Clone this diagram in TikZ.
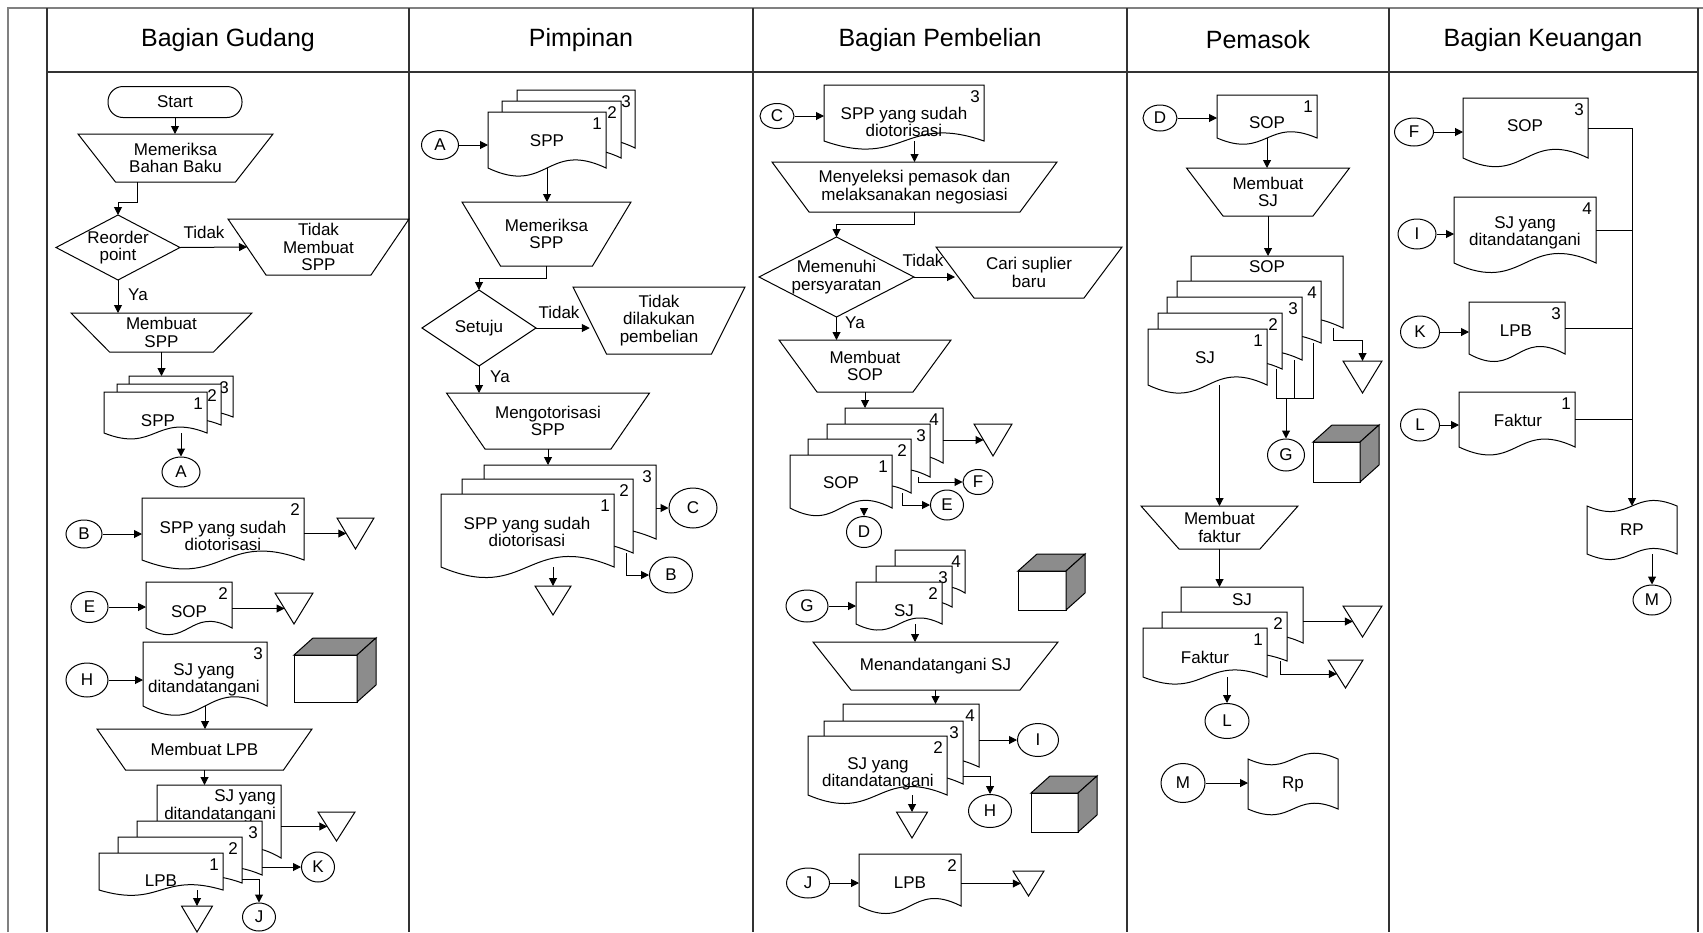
\documentclass[tikz,border=0pt]{standalone}
\usepackage{fontspec}
\setmainfont{Liberation Sans}
\usepackage{tikz}
\usetikzlibrary{arrows.meta, calc, shapes.geometric}
\colorlet{cubegray}{black!45}
\newcommand{\bodyfont}{\fontsize{17}{17.5}\selectfont}
\newcommand{\headfont}{\fontsize{25}{30}\selectfont}
\tikzset{
  lane/.style={line width=1.3pt, draw=black!80},
  frame/.style={line width=2pt, draw=black!50},
  shape line/.style={line width=1pt},
  box/.style={rectangle, inner sep=0pt, outer sep=0pt, align=center, font=\bodyfont},
  txt/.style={inner sep=0pt, align=center, font=\bodyfont},
  numtxt/.style={inner sep=0pt, font=\bodyfont},
  lbl/.style={inner sep=0pt, font=\bodyfont},
  con/.style={ellipse, draw, line width=1pt, inner sep=0pt, font=\bodyfont},
  term/.style={draw, line width=1pt, rounded corners=15pt, inner sep=0pt, font=\bodyfont},
  arr/.style={line width=1pt, -{Triangle[length=8pt, width=8pt]}},
  ln/.style={line width=1pt},
  title/.style={font=\headfont, inner sep=0pt},
}
% manual operation: name, x, y, top width, bottom width, height, text
\newcommand{\manop}[7]{%
  \node[box, minimum width=#4, minimum height=#6] (#1) at (#2,#3) {#7};
  \draw[shape line] (#1.north west) -- (#1.north east) -- ([xshift=-(#4-#5)/2]#1.south east)
    -- ([xshift=(#4-#5)/2]#1.south west) -- cycle;
  \coordinate (#1-l) at ([xshift=(#4-#5)/4]#1.west);
  \coordinate (#1-r) at ([xshift=-(#4-#5)/4]#1.east);
}
% decision: name, x, y, width, height, text
\newcommand{\decide}[6]{%
  \node[box, minimum width=#4, minimum height=#5] (#1) at (#2,#3) {#6};
  \draw[shape line] (#1.north) -- (#1.east) -- (#1.south) -- (#1.west) -- cycle;
}
% document: name, left, top, width, height, number, text x, text y, text
\newcommand{\docu}[9]{%
  \node[box, anchor=north west, minimum width=#4, minimum height=#5] (#1) at (#2,#3) {};
  \filldraw[shape line, fill=white] (#1.south west) -- (#1.north west) -- (#1.north east) -- (#1.south east)
    .. controls +(-#4/2,-#5/2) and +(#4/2,#5/2) .. (#1.south west) -- cycle;
  \if\relax\detokenize{#6}\relax\else
    \node[numtxt] (#1-n) at ([xshift=-9,yshift=-12]#1.north east) {#6};\fi
  \if\relax\detokenize{#9}\relax\else
    \node[txt] (#1-t) at (#7,#8) {#9};\fi
}
% archive: name, x, top, width, height
\newcommand{\arsip}[5]{%
  \node[box, anchor=north, minimum width=#4, minimum height=#5] (#1) at (#2,#3) {};
  \filldraw[shape line, fill=white] (#1.north west) -- (#1.north east) -- (#1.south) -- cycle;
  \coordinate (#1-l) at ($(#1.north west)!0.5!(#1.south)$);
}
% goods box: name, left, top, width, height
\newcommand{\kubus}[5]{%
  \node[box, draw, shape line, fill=white, anchor=north west, minimum width=#4, minimum height=#5] (#1) at (#2,#3) {};
  \filldraw[shape line, fill=cubegray] (#1.north west) -- ++(19,-17) -- ++(#4,0) -- (#1.north east) -- cycle;
  \filldraw[shape line, fill=cubegray] (#1.north east) -- ++(19,-17) -- ++(0,#5) -- (#1.south east) -- cycle;
}
% punched tape: name, x, y, width, height, text
\newcommand{\tape}[6]{%
  \node[box, minimum width=#4, minimum height=#5] (#1) at (#2,#3) {#6};
  \draw[shape line] (#1.north west) .. controls +(#4/2,#5/2.5) and +(-#4/2,-#5/2.5) .. (#1.north east)
    -- (#1.south east) .. controls +(-#4/2,-#5/2.5) and +(#4/2,#5/2.5) .. (#1.south west) -- cycle;
}

\begin{document}
\begin{tikzpicture}[x=1pt, y=-1pt]
\useasboundingbox (0,0) rectangle (1703,932);

% swimlanes
\draw[frame] (8,932) -- (8,8) -- (1703,8);
\foreach \x in {47,409,753,1127,1389,1698}
  \draw[lane] (\x,8) -- (\x,932);
\draw[lane] (47,72) -- (1698,72);
\foreach \i/\x/\lab in {1/228/Bagian Gudang, 2/581/Pimpinan, 3/940/Bagian Pembelian, 4/1258/Pemasok, 5/1543/Bagian Keuangan}
  \node[title] (head\i) at (\x,40) {\lab};

% Bagian Gudang
\node[term, minimum width=134, minimum height=31] (start) at (175,102) {Start};
\manop{periksa}{175.5}{158}{195}{120}{48}{Memeriksa\\Bahan Baku}
\decide{reorder}{118}{247.5}{124}{65}{Reorder\\point}
\manop{tdkspp}{318.5}{247}{181}{105}{56}{Tidak\\Membuat\\SPP}
\manop{buatspp}{161.5}{332.5}{181}{104}{39}{Membuat\\SPP}
\docu{sppG3}{129}{376}{104}{41}{3}{}{}{}
\docu{sppG2}{117}{384}{104}{41}{2}{}{}{}
\docu{sppG1}{104}{392}{103}{41}{1}{158}{421}{SPP}
\node[con, minimum width=38, minimum height=30] (A1) at (181,472) {A};
\draw[arr] (start.south) -- (start.south |- periksa.north);
\draw[arr] ([xshift=-38]periksa.south) -- ++(0,20) -| (reorder.north);
\draw[arr] (reorder.east) -- (tdkspp-l);
\node[lbl] (tidak1) at (204,232) {Tidak};
\draw[arr] (reorder.south) -- (reorder.south |- buatspp.north);
\node[lbl] (ya1) at (138,295) {Ya};
\draw[arr] (buatspp.south) -- (buatspp.south |- sppG3.north);
\draw[arr] (sppG1.south -| A1) -- (A1);

\node[con, minimum width=36, minimum height=28] (B1) at (84,534) {B};
\docu{sppB}{142}{498}{162}{62}{2}{223}{536}{SPP yang sudah\\diotorisasi}
\arsip{arsB1}{355.5}{518}{37}{31}
\draw[arr] (B1) -- (B1 -| sppB.west);
\draw[arr] (sppB.east |- arsB1-l) -- (arsB1-l);

\node[con, minimum width=37, minimum height=31] (E1) at (89.5,607) {E};
\docu{sopE}{146}{582}{86}{46}{2}{189}{612}{SOP}
\arsip{arsE1}{294}{593}{38}{31}
\draw[arr] (E1) -- (E1 -| sopE.west);
\draw[arr] (sopE.east |- arsE1-l) -- (arsE1-l);

\node[con, minimum width=42, minimum height=34] (H1) at (87,680) {H};
\docu{sjH}{143}{642}{124}{64}{3}{204}{680}{SJ yang\\ditandatangani}
\kubus{kbs1}{294}{655}{63}{47}
\draw[arr] (H1) -- (H1 -| sjH.west);
\manop{buatlpb}{204.5}{749.5}{215}{158}{41}{Membuat LPB}
\draw[arr] (sjH.south) -- (sjH.south |- buatlpb.north);

\docu{sjL}{157}{785}{124}{73}{}{}{}{}
\node[txt, align=right, anchor=east] (sjL-t) at (276,806.5) {SJ yang\\ditandatangani};
\docu{lpb3}{137}{821}{125}{54}{3}{}{}{}
\docu{lpb2}{118}{837}{124}{46}{2}{}{}{}
\docu{lpb1}{99}{853}{124}{37}{1}{161}{881}{LPB}
\draw[arr] (buatlpb.south) -- (buatlpb.south |- sjL.north);
\arsip{arsL1}{336.5}{812}{37}{29}
\draw[arr] (sjL.east |- arsL1-l) -- (arsL1-l);
\node[con, minimum width=33, minimum height=30] (K1) at (318,867) {K};
\draw[arr] (lpb3.east |- K1) -- (K1);
\node[con, minimum width=33, minimum height=28] (J1) at (259,917) {J};
\draw[arr] ([yshift=4]lpb2.south east) -| (J1);
\arsip{arsL2}{197}{906}{31}{26}
\draw[arr] (lpb1.south -| arsL2.north) -- (arsL2.north);

% Pimpinan
\node[con, minimum width=37, minimum height=29] (A2) at (440,145) {A};
\docu{sppP3}{517}{90}{118}{58}{3}{}{}{}
\docu{sppP2}{502}{101}{119}{57}{2}{}{}{}
\docu{sppP1}{488}{112}{118}{56}{1}{547}{141}{SPP}
\draw[arr] (A2) -- (A2 -| sppP1.west);
\manop{periksaspp}{546.5}{234}{169}{92}{64}{Memeriksa\\SPP}
\draw[arr] (sppP1.south) -- (sppP1.south |- periksaspp.north);
\decide{setuju}{479}{328}{114}{76}{Setuju}
\draw[arr] (periksaspp.south) -- ++(0,12) -| (setuju.north);
\manop{tdkbeli}{659}{320.5}{172}{105}{67}{Tidak\\dilakukan\\pembelian}
\draw[arr] (setuju.east) -- (setuju.east -| tdkbeli-l);
\node[lbl] (tidak2) at (559,312) {Tidak};
\manop{otorisasi}{548}{421}{203}{126}{56}{Mengotorisasi\\SPP}
\draw[arr] (setuju.south) -- (setuju.south |- otorisasi.north);
\node[lbl] (ya2) at (500,377) {Ya};
\docu{otoP3}{484}{465}{172}{74}{3}{}{}{}
\docu{otoP2}{462}{479}{171}{74}{2}{}{}{}
\docu{otoP1}{441}{494}{173}{73}{1}{527}{532}{SPP yang sudah\\diotorisasi}
\draw[arr] (otorisasi.south) -- (otorisasi.south |- otoP3.north);
\node[con, minimum width=48, minimum height=40] (C2) at (693,508) {C};
\draw[arr] (otoP3.east |- C2) -- (C2);
\node[con, minimum width=43, minimum height=36] (B2) at (671,575) {B};
\draw[arr] ([xshift=-7]otoP2.south east) |- (B2);
\arsip{arsP}{553}{586}{36}{29}
\draw[arr] (otoP1.south -| arsP.north) -- (arsP.north);

% Bagian Pembelian
\node[con, minimum width=34, minimum height=25] (C3) at (777,116) {C};
\docu{sppB3}{824}{85}{160}{56}{3}{904}{122}{SPP yang sudah\\diotorisasi}
\draw[arr] (C3) -- (C3 -| sppB3.west);
\manop{seleksi}{914.5}{187}{285}{211}{50}{Menyeleksi pemasok dan\\melaksanakan negosiasi}
\draw[arr] (sppB3.south -| seleksi.north) -- (seleksi.north);
\decide{syarat}{836.5}{277}{155}{80}{Memenuhi\\persyaratan}
\draw[arr] (seleksi.south) -- ++(0,12) -| (syarat.north);
\manop{carisup}{1029}{272.5}{186}{110}{51}{Cari suplier\\baru}
\draw[arr] (syarat.east) -- (syarat.east -| carisup-l);
\node[lbl] (tidak3) at (923,260) {Tidak};
\manop{buatsop}{865}{366}{172}{96}{52}{Membuat\\SOP}
\draw[arr] (syarat.south) -- (syarat.south |- buatsop.north);
\node[lbl] (ya3) at (855,323) {Ya};
\docu{sopB4}{845}{408}{98}{55}{4}{}{}{}
\docu{sopB3}{827}{424}{103}{53}{3}{}{}{}
\docu{sopB2}{808}{439}{103}{54}{2}{}{}{}
\docu{sopB1}{790}{455}{102}{53}{1}{841}{483}{SOP}
\draw[arr] (buatsop.south) -- (buatsop.south |- sopB4.north);
\arsip{arsS}{993}{424}{38}{32}
\draw[arr] (sopB4.east |- arsS-l) -- (arsS-l);
\node[con, minimum width=30, minimum height=25] (F3) at (978,482) {F};
\draw[arr] ([xshift=-12]sopB3.south east) |- (F3);
\node[con, minimum width=33, minimum height=30] (E3) at (947,505) {E};
\draw[arr] ([xshift=-9]sopB2.south east) |- (E3);
\node[con, minimum width=35, minimum height=31] (D3) at (864,532) {D};
\draw[arr] (sopB1.south -| D3) -- (D3);

\node[con, minimum width=42, minimum height=32] (G3) at (807,606) {G};
\docu{sjB4}{895}{550}{70}{43}{4}{}{}{}
\docu{sjB3}{876}{566}{76}{41}{3}{}{}{}
\docu{sjB2}{856}{582}{86}{42}{2}{904}{611}{SJ}
\draw[arr] (G3) -- (G3 -| sjB2.west);
\kubus{kbs2}{1018}{571}{48}{39}
\manop{tandatangan}{935.5}{666}{245}{169}{48}{Menandatangani SJ}
\draw[arr] ([xshift=16]sjB2.south) -- ([xshift=16]sjB2.south |- tandatangan.north);
\docu{ttdB4}{843}{704}{136}{63}{4}{}{}{}
\docu{ttdB3}{824}{721}{139}{63}{3}{}{}{}
\docu{ttdB2}{808}{736}{139}{59}{2}{878}{774}{SJ yang\\ditandatangani}
\draw[arr] (tandatangan.south) -- (tandatangan.south |- ttdB4.north);
\node[con, minimum width=41, minimum height=33] (I3) at (1038,740) {I};
\draw[arr] (ttdB4.east |- I3) -- (I3);
\node[con, minimum width=43, minimum height=33] (H3) at (990,811) {H};
\draw[arr] ([yshift=8]ttdB3.south east) -| (H3);
\arsip{arsT}{912}{812}{31}{26}
\draw[arr] (ttdB2.south -| arsT.north) -- (arsT.north);
\kubus{kbs3}{1031}{793}{47}{39}
\node[con, minimum width=43, minimum height=30] (J3) at (808,883) {J};
\docu{lpbB}{859}{854}{102}{52}{2}{910}{883}{LPB}
\draw[arr] (J3) -- (J3 -| lpbB.west);
\arsip{arsJ}{1028.5}{871}{31}{25}
\draw[arr] (lpbB.east |- arsJ-l) -- (arsJ-l);

% Pemasok
\node[con, minimum width=34, minimum height=26] (D4) at (1160,118) {D};
\docu{sopM}{1217}{95}{100}{43}{1}{1267}{123}{SOP}
\draw[arr] (D4) -- (D4 -| sopM.west);
\manop{buatsj}{1268}{192}{163}{90}{48}{Membuat\\SJ}
\draw[arr] (sopM.south) -- (sopM.south |- buatsj.north);
\docu{sopM5}{1191}{256}{152}{72}{}{1267}{267}{SOP}
\docu{sjM4}{1177}{281}{144}{62}{4}{}{}{}
\docu{sjM3}{1167}{297}{135}{63}{3}{}{}{}
\docu{sjM2}{1158}{313}{124}{56}{2}{}{}{}
\docu{sjM1}{1148}{329}{119}{56}{1}{1205}{358}{SJ}
\draw[arr] (buatsj.south) -- (buatsj.south |- sopM5.north);
\arsip{arsM1}{1362.5}{361}{39}{32}
\draw[arr] ([xshift=-10]sopM5.south east) -- ++(0,12) -| (arsM1.north);
\node[con, minimum width=37, minimum height=32] (G4) at (1286,455) {G};
\coordinate (g4j) at ([yshift=40]G4.north);
\draw[ln] ([xshift=-6]sjM2.south east) |- (g4j);
\draw[ln] ([xshift=-8]sjM3.south east) |- (g4j);
\draw[ln] ([xshift=-8]sjM4.south east) |- (g4j);
\draw[arr] (g4j) -- (G4);
\kubus{kbs4}{1313}{442}{47}{40}
\manop{buatfaktur}{1219.5}{527.5}{157}{81}{43}{Membuat\\faktur}
\draw[arr] (sjM1.south -| buatfaktur.north) -- (buatfaktur.north);
\docu{sjF}{1181}{587}{122}{56}{}{1242}{600}{SJ}
\docu{fakM2}{1162}{612}{125}{49}{2}{}{}{}
\docu{fakM1}{1143}{628}{124}{49}{1}{1205}{657}{Faktur}
\draw[arr] (buatfaktur.south) -- (buatfaktur.south |- sjF.north);
\arsip{arsM2}{1362.5}{606}{39}{31}
\draw[arr] (sjF.east |- arsM2-l) -- (arsM2-l);
\arsip{arsM3}{1345.5}{660}{35}{28}
\draw[arr] ([xshift=-7]fakM2.south east) |- (arsM3-l);
\node[con, minimum width=44, minimum height=35] (L4) at (1227,721) {L};
\draw[arr] (fakM1.south -| L4) -- (L4);
\node[con, minimum width=44, minimum height=39] (M4) at (1183,783) {M};
\tape{rpM}{1293}{784}{90}{50}{Rp}
\draw[arr] (M4) -- (M4 -| rpM.west);

% Bagian Keuangan
\node[con, minimum width=39, minimum height=28] (F5) at (1414,132) {F};
\docu{sopK}{1463}{98}{125}{60}{3}{1525}{126}{SOP}
\node[con, minimum width=38, minimum height=30] (I5) at (1417,234) {I};
\docu{sjK}{1454}{197}{142}{66}{4}{1525}{233}{SJ yang\\ditandatangani}
\node[con, minimum width=39, minimum height=32] (K5) at (1420,332) {K};
\docu{lpbK}{1469}{302}{96}{52}{3}{1516}{331}{LPB}
\node[con, minimum width=39, minimum height=32] (L5) at (1420,425) {L};
\docu{fakK}{1459}{392}{116}{55}{1}{1518}{420}{Faktur}
\tape{rpK}{1632}{530}{90}{48}{RP}
\node[con, minimum width=38, minimum height=30] (M5) at (1652,600) {M};
\foreach \cn/\dn in {F5/sopK, I5/sjK, K5/lpbK, L5/fakK}{
  \draw[arr] (\cn) -- (\cn -| \dn.west);
  \draw[ln] (\dn.east) -- (\dn.east -| rpK.north);
}
\draw[arr] (sopK.east -| rpK.north) -- (rpK.north);
\draw[arr] (rpK.south -| M5) -- (M5);
\end{tikzpicture}
\end{document}
